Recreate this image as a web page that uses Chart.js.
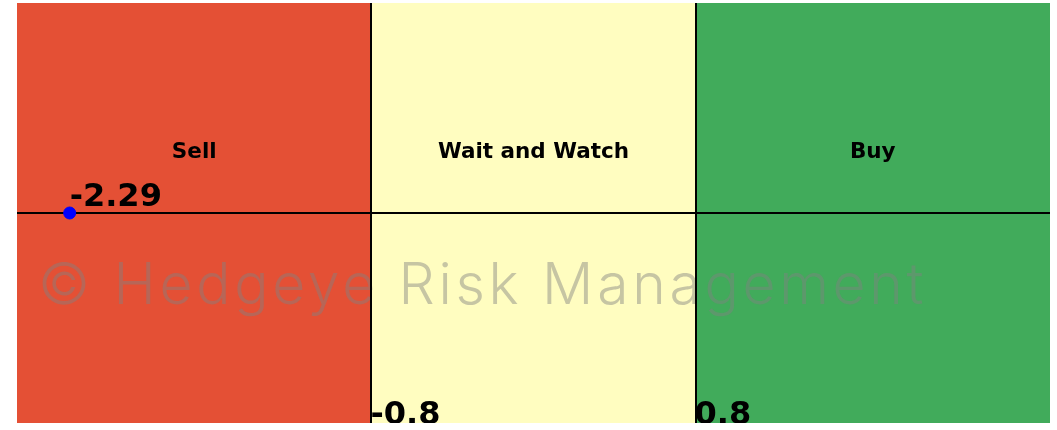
<!DOCTYPE html>
<html>
<head>
<meta charset="utf-8">
<script src="https://cdn.jsdelivr.net/npm/chart.js@4"></script>
<style>
  html, body { margin: 0; padding: 0; background: #fff; }
  #wrap { width: 1057px; height: 430px; }
</style>
</head>
<body>
<div id="wrap"><canvas id="zoneChart" width="1057" height="430"></canvas></div>
<script>
// --- données ---
const zoneNames = ['Sell', 'Wait and Watch', 'Buy'];
const zoneColors = ['#e45035', '#fffdc0', '#41ab5b'];
const thresholds = [-0.8, 0.8];
const axisMin = -2.55, axisMax = 2.55;
const currentValue = -2.29;
const watermark = '\u00a9 Hedgeye Risk Management';

// plugin qui dessine les zones, les lignes et les textes
const zonesPlugin = {
  id: 'zones',
  beforeDatasetsDraw(chart) {
    const { ctx, chartArea: a, scales: { x, y } } = chart;
    const bounds = [axisMin, thresholds[0], thresholds[1], axisMax];
    ctx.save();
    for (let i = 0; i < 3; i++) {
      const x0 = x.getPixelForValue(bounds[i]);
      const x1 = x.getPixelForValue(bounds[i + 1]);
      ctx.fillStyle = zoneColors[i];
      ctx.fillRect(x0, a.top, x1 - x0, a.bottom - a.top);
    }
    // watermark
    ctx.save();
    ctx.fillStyle = 'rgba(128,128,128,0.45)';
    ctx.font = '300 57px Inter';
    ctx.letterSpacing = '3.7px';
    ctx.textBaseline = 'alphabetic';
    ctx.textAlign = 'left';
    ctx.fillText(watermark, 38, 304);
    ctx.restore();

    // lignes
    ctx.strokeStyle = '#000';
    ctx.lineWidth = 2;
    thresholds.forEach(t => {
      const px = Math.round(x.getPixelForValue(t));
      ctx.beginPath();
      ctx.moveTo(px, a.top);
      ctx.lineTo(px, a.bottom);
      ctx.stroke();
    });
    const py = Math.round(y.getPixelForValue(0));
    ctx.beginPath();
    ctx.moveTo(a.left, py);
    ctx.lineTo(a.right, py);
    ctx.stroke();

    // noms des zones
    ctx.fillStyle = '#000';
    ctx.font = 'bold 21.5px "DejaVu Sans"';
    ctx.textAlign = 'center';
    ctx.textBaseline = 'middle';
    const centers = [(axisMin + thresholds[0]) / 2, 0, (thresholds[1] + axisMax) / 2];
    zoneNames.forEach((n, i) => {
      ctx.fillText(n, x.getPixelForValue(centers[i]), y.getPixelForValue(0.29));
    });

    // valeurs des seuils (coupées en bas de la zone)
    ctx.beginPath();
    ctx.rect(a.left, a.top, a.right - a.left, a.bottom - a.top);
    ctx.clip();
    ctx.font = 'bold 32px "DejaVu Sans"';
    ctx.textAlign = 'left';
    ctx.textBaseline = 'alphabetic';
    thresholds.forEach(t => {
      ctx.fillText(String(t), x.getPixelForValue(t) - 1, a.bottom + 1);
    });
    ctx.restore();
  },
  afterDatasetsDraw(chart) {
    const { ctx, scales: { x, y } } = chart;
    ctx.save();
    ctx.fillStyle = '#000';
    ctx.font = 'bold 32px "DejaVu Sans"';
    ctx.textAlign = 'left';
    ctx.textBaseline = 'alphabetic';
    ctx.fillText(currentValue.toFixed(2), x.getPixelForValue(currentValue), y.getPixelForValue(0) - 7);
    ctx.restore();
  }
};

const ctx = document.getElementById('zoneChart').getContext('2d');
new Chart(ctx, {
  type: 'scatter',
  data: {
    datasets: [{
      data: [{ x: currentValue, y: 0 }],
      backgroundColor: '#0000ff',
      borderColor: '#0000ff',
      pointRadius: 6,
      pointHoverRadius: 6
    }]
  },
  options: {
    responsive: false,
    animation: false,
    layout: { autoPadding: false, padding: { left: 17, right: 7, top: 3, bottom: 7 } },
    plugins: { legend: { display: false }, tooltip: { enabled: false } },
    scales: {
      x: { type: 'linear', min: axisMin, max: axisMax, display: false },
      y: { type: 'linear', min: -1, max: 1, display: false }
    }
  },
  plugins: [zonesPlugin]
});
</script>
</body>
</html>
